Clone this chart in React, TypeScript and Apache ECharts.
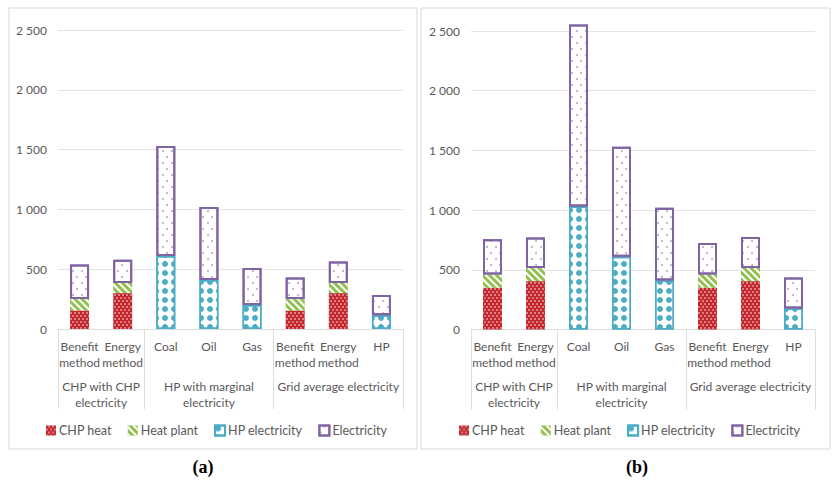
import React, { useEffect, useRef } from "react";
import * as echarts from "echarts";

// Categories along the x axis (two-line labels) and the group each range belongs to
const categories = ["Benefit\nmethod", "Energy\nmethod", "Coal", "Oil", "Gas", "Benefit\nmethod", "Energy\nmethod", "HP"];
const groupNames = ["CHP with CHP\nelectricity", "HP with marginal\nelectricity", "Grid average electricity"];
const groupSizes = [2, 3, 3];
const yTicks = [0, 500, 1000, 1500, 2000, 2500];
const seriesNames = ["CHP heat", "Heat plant", "HP electricity", "Electricity"];

// Panel (a)
const chpHeatA = [155, 300, null, null, null, 155, 300, null];
const heatPlantA = [95, 85, null, null, null, 95, 85, null];
const hpElecA = [null, null, 610, 410, 200, null, null, 115];
const elecA = [290, 195, 920, 610, 310, 180, 180, 170];

// Panel (b)
const chpHeatB = [350, 405, null, null, null, 350, 405, null];
const heatPlantB = [110, 110, null, null, null, 110, 110, null];
const hpElecB = [null, null, 1030, 610, 410, null, null, 175];
const elecB = [295, 255, 1525, 920, 610, 265, 260, 260];

const FONT = "Lato";
const TEXT = "#595959";
const LINE = "#DDDDDD";

const RED = "#C3262C";
const GREEN = "#92C050";
const TEAL = "#4BACC6";
const PURPLE = "#8064A2";

const styles: any[] = [
  {
    color: RED,
    decal: {
      symbol: "circle",
      symbolSize: 0.9,
      color: "rgba(255,255,255,0.55)",
      dashArrayX: [[1.5, 1.5], [0, 1.5, 1.5, 0]],
      dashArrayY: [1.5, 0.5],
    },
  },
  {
    color: GREEN,
    decal: {
      symbol: "rect",
      symbolSize: 1,
      color: "#ffffff",
      dashArrayX: [1, 0],
      dashArrayY: [2, 2.5],
      rotation: Math.PI / 4,
    },
  },
  {
    color: "#ffffff",
    borderColor: TEAL,
    borderWidth: 1.5,
    decal: {
      symbol: "circle",
      symbolSize: 1,
      color: TEAL,
      dashArrayX: [6, 2.5],
      dashArrayY: [6, 2.5],
    },
  },
  {
    color: "#ffffff",
    borderColor: PURPLE,
    borderWidth: 2,
    decal: {
      symbol: "circle",
      symbolSize: 1,
      color: "rgba(128,100,162,0.55)",
      dashArrayX: [[1.5, 6.5], [0, 4, 1.5, 2.5]],
      dashArrayY: [1.5, 4],
    },
  },
];

const fmtThousands = (v: number) =>
  v >= 1000 ? `${Math.floor(v / 1000)} ${String(v % 1000).padStart(3, "0")}` : String(v);

// Boundaries and centres of the category groups, in category units
const groupBounds: number[] = [0];
groupSizes.forEach((s) => groupBounds.push(groupBounds[groupBounds.length - 1] + s));
const groupCenters = groupSizes.map((s, i) => groupBounds[i] + s / 2);

function panelAxes(gridIndex: number) {
  const xCat = {
    type: "category",
    gridIndex,
    data: categories,
    axisLine: { show: true, lineStyle: { color: LINE, width: 1 } },
    axisTick: { show: false },
    axisLabel: { color: TEXT, fontFamily: FONT, fontSize: 12, lineHeight: 16, margin: 9, interval: 0 },
  };
  const xGroup = {
    type: "value",
    gridIndex,
    position: "bottom",
    min: 0,
    max: categories.length,
    axisLine: { show: false },
    splitLine: { show: false },
    axisTick: {
      show: true,
      length: 80,
      customValues: groupBounds,
      lineStyle: { color: LINE, width: 1 },
    },
    axisLabel: {
      show: true,
      customValues: groupCenters,
      formatter: (v: number) => {
        const i = groupCenters.findIndex((c) => Math.abs(c - v) < 1e-6);
        return i >= 0 ? groupNames[i] : "";
      },
      color: TEXT,
      fontFamily: FONT,
      fontSize: 12,
      lineHeight: 16,
      margin: 49,
    },
  };
  const y = {
    type: "value",
    gridIndex,
    min: yTicks[0],
    max: yTicks[yTicks.length - 1],
    interval: yTicks[1] - yTicks[0],
    axisLine: { show: false },
    axisTick: { show: false },
    splitLine: { lineStyle: { color: "#E4E4E4", width: 1 } },
    axisLabel: { color: TEXT, fontFamily: FONT, fontSize: 12, margin: 11, formatter: fmtThousands },
  };
  return { xCat, xGroup, y };
}

function panelSeries(data: (number | null)[][], xAxisIndex: number, yAxisIndex: number, stack: string) {
  return data.map((values, i) => ({
    name: seriesNames[i],
    type: "bar",
    stack,
    xAxisIndex,
    yAxisIndex,
    barWidth: 19,
    clip: false,
    itemStyle: styles[i],
    emphasis: { disabled: true },
    data: values.map((v) => (v === null ? "-" : v)),
  }));
}

export default function App() {
  const ref = useRef<HTMLDivElement>(null);

  useEffect(() => {
    if (!ref.current) return;
    const chart = echarts.init(ref.current, null, { renderer: "svg" });

    const a = panelAxes(0);
    const b = panelAxes(1);

    const legendBase = {
      orient: "horizontal",
      top: 424,
      padding: 0,
      itemWidth: 10,
      itemHeight: 10,
      itemGap: 16,
      icon: "rect",
      selectedMode: false,
      textStyle: { color: TEXT, fontFamily: FONT, fontSize: 12.5, padding: [0, 0, 0, -2] },
      data: seriesNames,
    };

    chart.setOption({
      animation: false,
      backgroundColor: "#ffffff",
      grid: [
        { left: 58, top: 30, width: 345, height: 299 },
        { left: 471, top: 31, width: 344, height: 298.5 },
      ],
      xAxis: [a.xCat, a.xGroup, b.xCat, b.xGroup],
      yAxis: [a.y, b.y],
      legend: [
        { ...legendBase, left: 46 },
        { ...legendBase, left: 459 },
      ],
      series: [
        ...panelSeries([chpHeatA, heatPlantA, hpElecA, elecA], 0, 0, "a"),
        ...panelSeries([chpHeatB, heatPlantB, hpElecB, elecB], 2, 1, "b"),
      ],
      graphic: [
        { type: "rect", shape: { x: 9, y: 8, width: 408, height: 441 }, style: { fill: "none", stroke: "#D9D9D9", lineWidth: 1 }, z: -1 },
        { type: "rect", shape: { x: 421, y: 8, width: 409, height: 441 }, style: { fill: "none", stroke: "#D9D9D9", lineWidth: 1 }, z: -1 },
        { type: "text", x: 203, y: 467, style: { text: "(a)", font: "bold 18px 'Liberation Serif', serif", fill: "#000", align: "center", verticalAlign: "middle" } },
        { type: "text", x: 637, y: 467, style: { text: "(b)", font: "bold 18px 'Liberation Serif', serif", fill: "#000", align: "center", verticalAlign: "middle" } },
      ],
    });

    return () => chart.dispose();
  }, []);

  return <div ref={ref} style={{ position: "fixed", left: 0, top: 0, width: 832, height: 483 }} />;
}
